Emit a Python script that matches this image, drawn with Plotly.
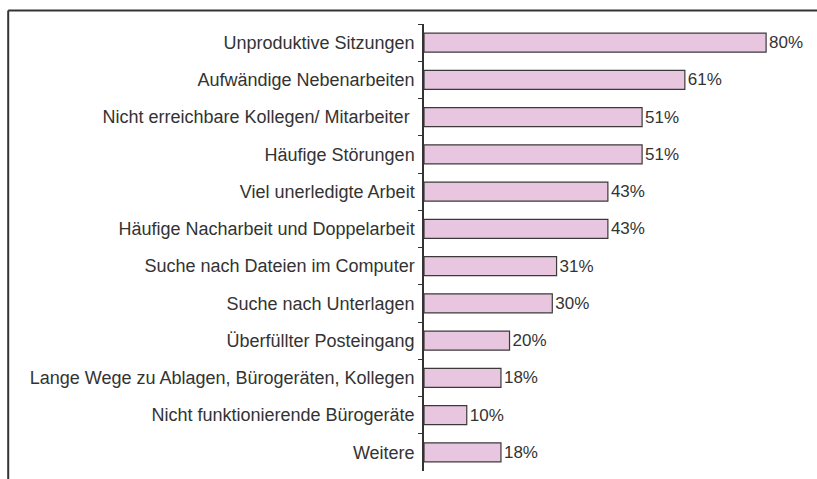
import plotly.graph_objects as go

categories = [
    "Unproduktive Sitzungen",
    "Aufwändige Nebenarbeiten",
    "Nicht erreichbare Kollegen/ Mitarbeiter\u00a0",
    "Häufige Störungen",
    "Viel unerledigte Arbeit",
    "Häufige Nacharbeit und Doppelarbeit",
    "Suche nach Dateien im Computer",
    "Suche nach Unterlagen",
    "Überfüllter Posteingang",
    "Lange Wege zu Ablagen, Bürogeräten, Kollegen",
    "Nicht funktionierende Bürogeräte",
    "Weitere",
]
values = [80, 61, 51, 51, 43, 43, 31, 30, 20, 18, 10, 18]
value_labels = [f"{v}%" for v in values]

FONT = "Liberation Sans, Arial, sans-serif"

fig = go.Figure(go.Bar(
    x=values,
    y=categories,
    orientation="h",
    text=value_labels,
    textposition="outside",
    cliponaxis=False,
    textfont=dict(size=17, color="#333333", family=FONT),
    marker=dict(color="#E8C6DF", line=dict(color="#3a3a3a", width=1.2)),
    width=0.51,
))

fig.update_layout(
    width=817, height=479,
    margin=dict(l=424, r=0, t=24, b=8),
    paper_bgcolor="white", plot_bgcolor="white",
    showlegend=False,
    font=dict(family=FONT, size=17, color="#333333"),
    xaxis=dict(range=[0, 91.9], visible=False),
    yaxis=dict(
        autorange="reversed",
        type="category",
        showline=True, linecolor="#333333", linewidth=1.5,
        ticks="outside", ticklen=4, tickcolor="#333333", tickwidth=1,
        tickson="boundaries",
        showgrid=False,
        ticklabelstandoff=4,
        tickfont=dict(size=18, family=FONT, color="#333333"),
    ),
    shapes=[
        dict(type="line", xref="paper", yref="paper",
             x0=-1.058, x1=1.0, y0=1.03, y1=1.03,
             line=dict(color="#333333", width=2)),
        dict(type="line", xref="paper", yref="paper",
             x0=-1.058, x1=-1.058, y0=1.03, y1=-0.05,
             line=dict(color="#333333", width=2)),
    ],
)

fig.write_html("out.html")
